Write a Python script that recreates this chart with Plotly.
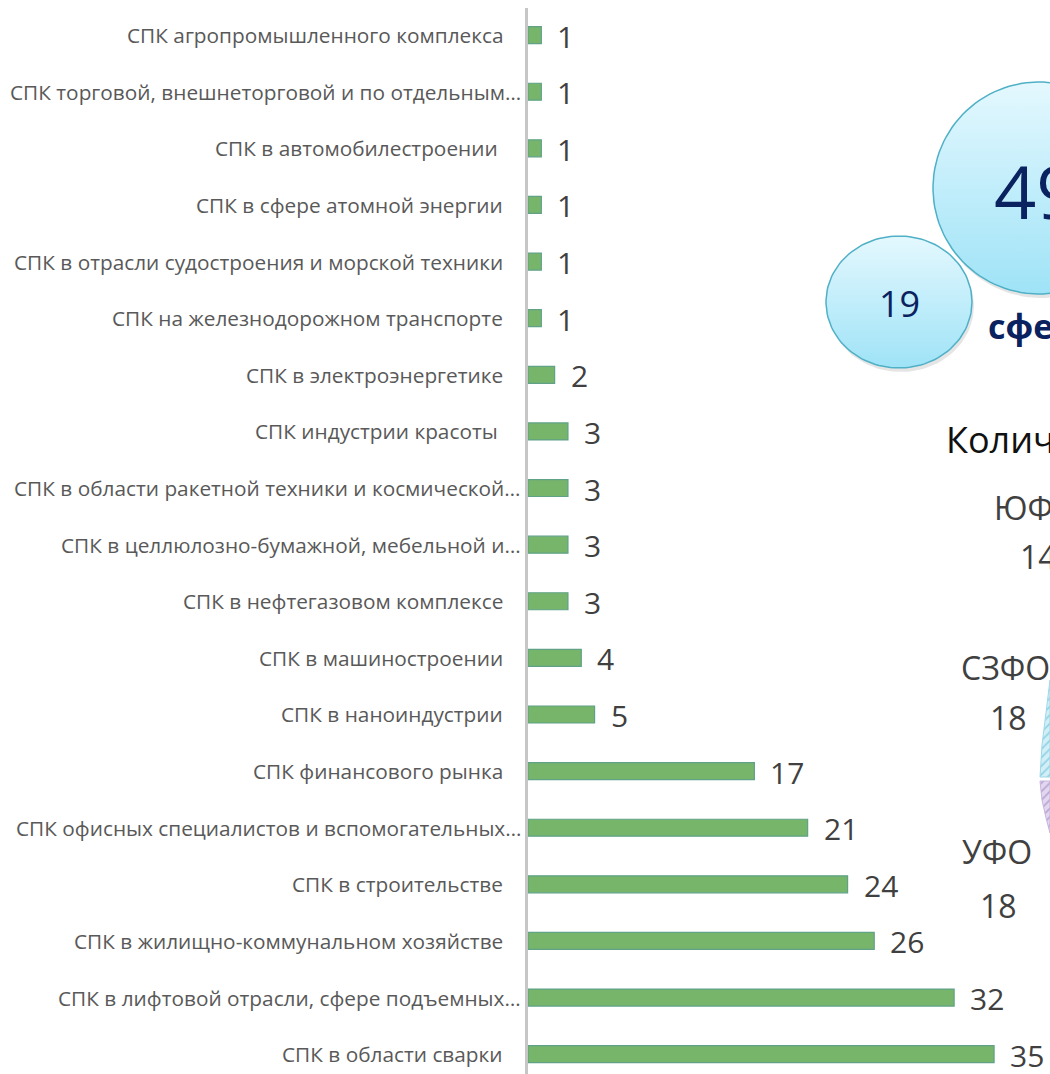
import numpy as np
import plotly.graph_objects as go

# ---- data ----
categories = [
    "СПК агропромышленного комплекса",
    "СПК торговой, внешнеторговой и по отдельным…",
    "СПК в автомобилестроении ",
    "СПК в сфере атомной энергии",
    "СПК в отрасли судостроения и морской техники",
    "СПК на железнодорожном транспорте",
    "СПК в электроэнергетике",
    "СПК индустрии красоты ",
    "СПК в области ракетной техники и космической…",
    "СПК в целлюлозно-бумажной, мебельной и…",
    "СПК в нефтегазовом комплексе",
    "СПК в машиностроении",
    "СПК в наноиндустрии",
    "СПК финансового рынка",
    "СПК офисных специалистов и вспомогательных…",
    "СПК в строительстве",
    "СПК в жилищно-коммунальном хозяйстве",
    "СПК в лифтовой отрасли, сфере подъемных…",
    "СПК в области сварки",
]
values = [1, 1, 1, 1, 1, 1, 2, 3, 3, 3, 3, 4, 5, 17, 21, 24, 26, 32, 35]

bubble_values = ["49", "19"]
bubble_caption = "сфе"
pie_title = "Колич"
pie_labels = ["ЮФ", "СЗФО", "УФО"]
pie_values = ["14", "18", "18"]

W, H = 1050, 1074

fig = go.Figure()

# ---- decorative right-hand part (pixel coordinate layer) ----
def py(y):
    return H - y

def ellipse(cx, cy, rx, ry, n=120):
    t = np.linspace(0, 2 * np.pi, n)
    return cx + rx * np.cos(t), py(cy) + ry * np.sin(t)

grad = dict(type="vertical", colorscale=[[0, "#9fe3f7"], [1, "#e4f8fe"]])
for (cx, cy, rx, ry) in [(1039, 188, 106, 106), (899, 302, 73, 66)]:
    sx, sy = ellipse(cx + 2, cy + 4, rx, ry)
    fig.add_trace(go.Scatter(x=sx, y=sy, xaxis="x2", yaxis="y2", mode="lines",
                             fill="toself", fillcolor="rgba(0,0,0,0.10)",
                             line=dict(width=0), hoverinfo="skip", showlegend=False))
    ex, ey = ellipse(cx, cy, rx, ry)
    fig.add_trace(go.Scatter(x=ex, y=ey, xaxis="x2", yaxis="y2", mode="lines",
                             fill="toself", fillgradient=grad,
                             line=dict(color="#4fb0c6", width=1.5),
                             hoverinfo="skip", showlegend=False))

fig.add_trace(go.Scatter(
    x=[1050, 1046, 1042, 1040, 1050, 1050], y=[py(680), py(712), py(745), py(777), py(777), py(680)],
    xaxis="x2", yaxis="y2", mode="lines", fill="toself", fillcolor="#cdeef6",
    fillpattern=dict(shape="/", fgcolor="#3fb0cf", bgcolor="#d2eef6", size=6, solidity=0.25),
    line=dict(color="#9fd8e8", width=1), hoverinfo="skip", showlegend=False))
fig.add_trace(go.Scatter(
    x=[1040, 1042, 1046, 1050, 1050, 1040], y=[py(781), py(800), py(818), py(833), py(781), py(781)],
    xaxis="x2", yaxis="y2", mode="lines", fill="toself", fillcolor="#ddd1ea",
    fillpattern=dict(shape="/", fgcolor="#8466b3", bgcolor="#e2d7ee", size=6, solidity=0.25),
    line=dict(color="#c7b6df", width=1), hoverinfo="skip", showlegend=False))

# ---- bar chart ----
fig.add_trace(go.Bar(
    y=categories, x=values, orientation="h", width=0.3,
    marker=dict(color="#77b56b", line=dict(color="#5fa287", width=1.2)),
    hoverinfo="x+y", showlegend=False, xaxis="x", yaxis="y",
))

for c, v in zip(categories, values):
    fig.add_annotation(x=v, y=c, xref="x", yref="y", text=str(v), showarrow=False,
                       xanchor="left", xshift=14, yshift=-1,
                       font=dict(family="Open Sans", size=30, color="#404040"))

# category labels (truncated ones reach slightly further right, as in the source)
for c in categories:
    fig.add_annotation(x=523 if c.endswith("…") else 505, y=c, xref="x2", yref="y",
                       text=c, showarrow=False, xanchor="right", yanchor="middle",
                       font=dict(family="Open Sans", size=20.8, color="#595959"))

navy = "#0b2260"
def txt(x, y, s, size, color, bold=False, anchor="left"):
    fig.add_annotation(x=x, y=py(y), xref="x2", yref="y2", text=f"<b>{s}</b>" if bold else s,
                       showarrow=False, xanchor=anchor, yanchor="middle",
                       font=dict(family="Open Sans", size=size, color=color))

txt(992, 190, bubble_values[0], 74, navy)
txt(899, 303, bubble_values[1], 36, navy, anchor="center")
txt(986, 326, bubble_caption, 34, navy, bold=True)
txt(944, 439, pie_title, 36, "#111111")
txt(992, 507, pie_labels[0], 32, "#404040")
txt(1018, 556, pie_values[0], 32, "#404040")
txt(959, 667, pie_labels[1], 32, "#404040")
txt(988, 717, pie_values[1], 32, "#404040")
txt(960, 851, pie_labels[2], 32, "#404040")
txt(978, 905, pie_values[2], 32, "#404040")

fig.add_shape(type="line", xref="x2", yref="y2", x0=526.5, x1=526.5, y0=py(8), y1=py(H),
              line=dict(color="#c6c6c6", width=3))

x0 = 528 / W
fig.update_layout(
    width=W, height=H,
    margin=dict(l=0, r=0, t=0, b=0, autoexpand=False),
    paper_bgcolor="white", plot_bgcolor="rgba(0,0,0,0)",
    xaxis=dict(domain=[x0, 1], range=[0, 39.2], visible=False, fixedrange=True, anchor="y"),
    yaxis=dict(domain=[0, 1], type="category", categoryorder="array", categoryarray=categories,
               range=[18.35, -0.62], showgrid=False, showline=False, zeroline=False,
               ticks="", showticklabels=False, automargin=False, anchor="x"),
    xaxis2=dict(domain=[0, 1], range=[0, W], visible=False, anchor="y2"),
    yaxis2=dict(domain=[0, 1], range=[0, H], visible=False, anchor="x2"),
    showlegend=False,
)

fig.write_html(
    "out.html",
    config={"displayModeBar": False},
    post_script="document.body.style.margin='0';document.body.style.overflow='hidden';",
)
